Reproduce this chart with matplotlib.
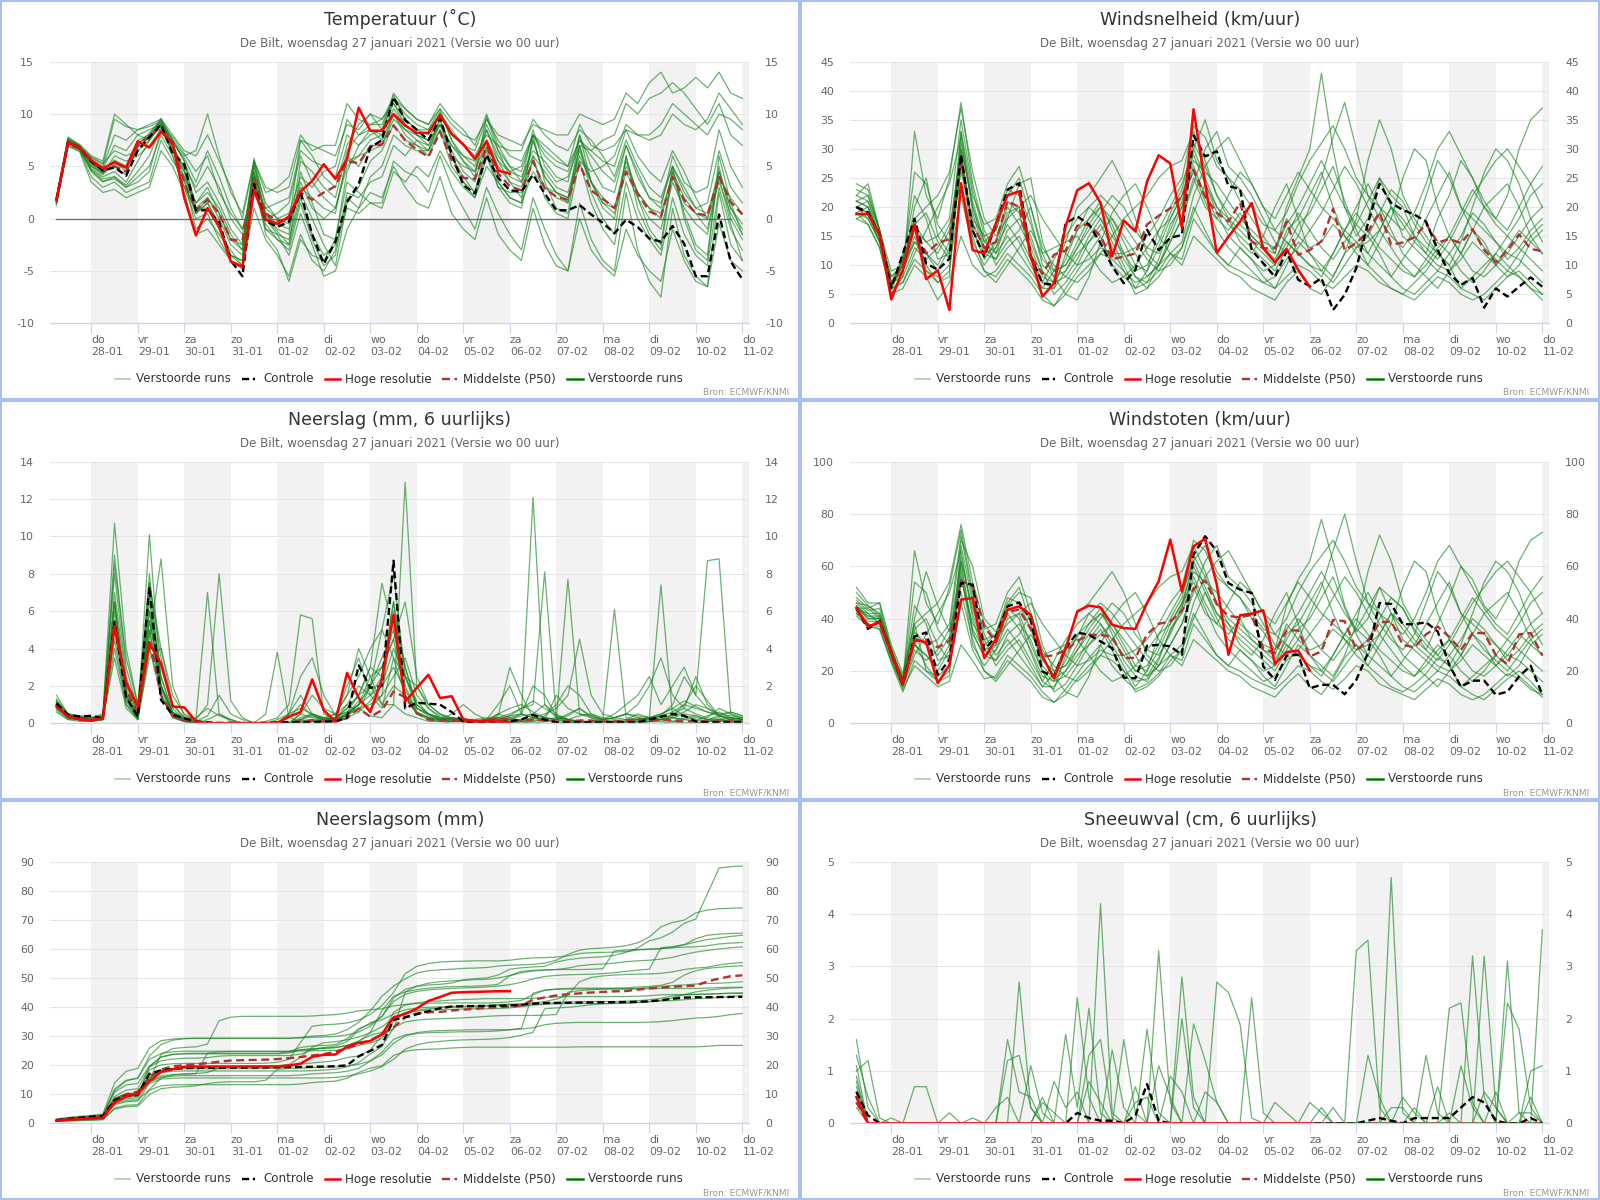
import numpy as np
import matplotlib
matplotlib.use('Agg')
import matplotlib.pyplot as plt
from matplotlib.lines import Line2D
from matplotlib.patches import Rectangle

plt.rcParams['font.family'] = ['DejaVu Sans']

def A(s):
    return np.array(s.replace(',', ' ').split(), dtype=float)

# ---------------- time axis (hours after 27-01 00 UTC, 6-hourly) ----------------
HOURS = np.arange(6, 361, 6)
TICK_HOURS = [24 * (k + 1) for k in range(15)]
DAY_NAMES = ['do', 'vr', 'za', 'zo', 'ma', 'di', 'wo', 'do', 'vr', 'za', 'zo', 'ma', 'di', 'wo', 'do']
DAY_DATES = ['28-01', '29-01', '30-01', '31-01', '01-02', '02-02', '03-02', '04-02',
             '05-02', '06-02', '07-02', '08-02', '09-02', '10-02', '11-02']

SUBTITLE = 'De Bilt, woensdag 27 januari 2021 (Versie wo 00 uur)'
LEGEND_LABELS = ['Verstoorde runs', 'Controle', 'Hoge resolutie', 'Middelste (P50)', 'Verstoorde runs']

# ---------------- Temperatuur ----------------
TEMP_CTRL = A("1.8,7.3,6.8,5.5,4.6,4.9,4.1,6.5,7.8,9.0,6.2,5.2, 0.8,0.8,-0.3,-4.0,-5.5,3.3,-0.2,-0.8,-0.3,2.5,-1.5,-4.3, "
              "-2.2,1.6,3.3,6.8,7.5,11.6,9.4,8.5,7.5,9.6,6.2,3.2, 2.4,6.1,3.9,2.7,2.6,4.2,2.4,0.8,0.8,1.3,0.4,-0.4, "
              "-1.4,-0.1,-0.8,-1.9,-2.2,-0.7,-2.4,-5.5,-5.5,0.4,-4.1,-5.8")
TEMP_HRES = A("1.8,7.3,6.8,5.6,4.8,5.4,4.9,7.4,6.8,8.3,7.3,2.0, -1.6,1.0,-0.7,-4.1,-4.6,2.7,-0.1,-0.5,0.2,2.6,3.6,5.2, "
              "3.8,5.7,10.6,8.4,8.4,10.0,8.9,8.2,8.2,9.9,8.1,7.1, 5.7,7.4,4.6,4.3")
TEMP_P50 = A("1.7,7.1,6.7,5.4,4.6,5.0,4.5,7.0,7.8,8.8,7.0,3.5, 0.8,1.8,0.5,-2.0,-2.1,3.8,0.5,-0.2,-0.1,2.5,1.8,2.5, "
             "3.1,5.5,5.3,6.9,7.1,8.9,7.5,6.6,5.9,8.3,5.6,3.9, 3.8,6.9,4.3,3.1,2.7,5.5,2.9,2.1,1.8,5.2,2.7,1.9, "
             "1.0,4.5,2.4,0.7,0.2,4.0,1.8,0.5,0.3,4.0,1.6,0.4")
TEMP_MEMBERS = [A(s) for s in [
    "1.6,7.5,6.9,5.8,5.2,9.5,8.8,8.5,9.0,9.5,7.5,6.0, 6.5,10.0,6.0,2.5, 0.5,5.5,2.5,3.0, 4.0,8.0,6.5,7.0, 7.0,11.0,9.5,9.0, 9.0,11.5,10.5,9.5, 9.0,10.5,9.0,8.0, 7.5,9.5,8.0,7.5, 7.0,9.0,8.5,8.0, 8.0,10.0,9.5,9.0, 9.5,12.0,11.0,13.0, 14.0,12.0,12.5,13.5, 12.5,14.0,12.0,11.5",
    "1.5,7.2,6.6,4.5,3.5,4.0,3.0,3.5,4.5,8.5,6.5,4.5, 0.5,1.5,-1.0,-3.5, -4.5,3.0,-1.0,-2.0, -3.0,1.5,-2.0,-4.5, -3.5,2.0,1.0,2.5, 2.0,5.0,3.0,1.5, 1.0,4.0,0.5,-1.0, -2.0,2.0,-1.5,-3.0, -4.0,1.0,-2.5,-4.5, -5.0,0.0,-3.0,-4.5, -5.5,-1.0,-3.5,-5.0, -6.0,-1.0,-4.0,-6.0, -6.5,-0.5,-4.0,-5.0",
    "1.7,7.8,7.0,5.0,4.2,5.5,4.5,7.5,8.0,9.2,6.0,3.0, 1.0,2.0,0.0,-2.5, -3.5,4.5,0.5,-0.5, -1.0,3.5,1.0,0.0, 1.0,5.5,6.0,7.5, 8.0,10.5,9.0,8.0, 7.0,9.5,6.5,4.5, 3.5,7.5,5.0,3.5, 3.0,7.5,4.0,2.5, 2.0,6.0,3.5,2.0, 1.0,5.0,2.5,1.0, 0.0,4.5,2.0,0.5, 0.0,4.5,1.0,-1.0",
    "1.9,7.4,6.8,5.5,4.8,7.0,6.5,8.0,8.5,9.0,7.5,5.5, 2.5,3.5,1.5,-1.0, -2.5,5.0,1.5,0.0, 0.5,4.0,3.0,4.5, 5.0,9.5,8.0,9.0, 9.5,11.5,10.0,9.0, 8.5,10.5,7.5,6.0, 5.5,8.5,6.0,4.5, 4.0,6.5,5.5,4.0, 3.5,8.0,5.0,3.0, 2.5,7.0,4.0,2.0, 1.5,5.0,2.5,1.0, 1.5,6.5,3.0,1.5",
    "1.4,7.0,6.5,4.0,3.0,3.5,2.5,3.0,3.5,7.5,5.5,4.0, 1.5,2.5,1.0,-1.5, -3.0,4.0,-0.5,-2.0, -2.5,2.0,-1.5,-3.5, -2.5,1.0,0.5,1.5, 1.0,4.5,3.5,5.0, 4.0,6.5,4.5,3.0, 2.0,5.0,3.5,2.0, 1.5,4.5,3.0,2.5, 2.0,5.5,4.5,5.0, 6.0,9.0,8.0,7.5, 8.0,10.0,9.0,8.5, 9.5,12.0,10.5,9.0",
    "1.8,7.6,6.9,5.2,4.3,6.0,5.5,6.0,7.0,8.5,6.5,5.0, 3.0,5.0,3.0,0.0, -1.5,4.5,0.5,-1.0, -1.5,5.5,4.5,3.0, 2.0,6.5,8.0,8.5, 7.5,10.0,8.0,7.0, 6.5,8.5,6.0,5.0, 4.5,7.5,5.5,4.5, 5.0,8.0,7.0,6.0, 5.0,7.5,6.5,5.5, 5.0,8.5,6.0,4.5, 3.5,6.5,4.5,2.0, 0.0,3.5,0.5,-1.5",
    "1.5,7.3,6.6,4.8,4.0,4.5,3.5,5.5,7.5,9.0,6.8,4.0, -1.0,0.0,-1.5,-3.0, -4.5,3.5,-1.0,-1.5, -2.0,2.5,0.0,-2.5, -4.5,1.5,3.0,5.5, 6.5,9.0,7.5,7.0, 6.0,8.5,5.0,3.5, 2.0,6.0,3.0,1.5, 1.0,6.0,2.0,0.5, 0.0,5.5,1.5,-1.0, -2.5,3.5,0.0,-2.0, -3.5,2.0,-1.5,-3.5, -4.5,3.0,-1.0,-3.0",
    "2.0,7.7,7.1,6.0,5.5,10.0,9.0,8.0,7.5,9.5,8.0,6.5, 6.0,8.0,5.5,3.0, 0.0,5.5,3.0,2.5, 3.0,7.5,7.0,6.5, 6.0,9.0,8.5,10.0, 9.5,11.0,9.5,8.5, 8.5,10.0,8.5,7.0, 6.5,9.5,7.5,6.0, 5.5,8.0,6.5,5.5, 5.0,9.0,7.0,6.5, 7.0,8.5,8.0,8.0, 9.0,11.0,10.0,9.0, 8.0,10.0,9.5,8.5",
    "1.6,7.2,6.7,4.7,3.8,4.0,3.2,4.5,6.0,8.8,6.5,3.5, 0.5,1.5,-0.5,-3.5, -4.0,5.5,0.0,-1.5, -3.5,0.5,-2.5,-5.5, -5.0,-1.0,1.0,4.0, 5.0,8.0,7.0,6.5, 6.5,9.5,6.0,4.0, 2.5,7.0,3.5,2.0, 1.5,8.0,3.5,1.0, 0.5,7.0,2.5,0.0, -1.5,6.0,1.0,-1.5, -3.0,4.5,0.5,-2.5, -3.5,5.0,0.0,-2.0",
    "1.7,7.5,6.8,5.6,5.0,8.0,7.5,8.5,8.8,9.3,7.2,5.8, 3.5,6.5,4.0,1.0, -1.0,3.0,1.0,1.5, 2.0,6.5,5.5,5.0, 4.0,8.0,7.0,8.0, 8.5,12.0,10.5,9.5, 9.0,11.0,9.5,8.5, 7.0,10.0,7.0,5.0, 3.5,6.0,4.5,3.0, 2.5,6.5,3.5,1.5, 0.5,4.5,2.0,0.0, -1.0,3.5,1.0,-0.5, -1.5,4.0,2.0,0.5",
    "1.3,6.9,6.4,3.5,2.5,2.8,2.0,2.5,3.0,6.5,5.0,2.5, -1.5,-1.0,-2.5,-4.0, -4.8,1.0,-2.0,-3.5, -5.5,-1.5,-4.0,-5.0, -3.0,2.5,2.0,3.5, 4.0,7.0,6.0,7.5, 7.0,9.0,7.0,5.5, 4.5,8.5,5.5,3.5, 2.0,7.5,4.0,2.5, 1.5,7.0,3.5,1.0, 0.0,6.0,2.0,-1.0, -2.5,5.0,0.0,-3.0, -4.0,6.0,1.5,-1.5",
    "1.8,7.4,6.9,5.3,4.4,5.0,4.2,7.0,8.2,9.4,7.0,4.5, 1.5,3.0,0.5,-2.0, -3.0,5.8,1.0,0.0, -0.5,7.5,6.0,4.0, 3.0,7.0,9.0,10.0, 8.5,11.0,9.0,8.0, 7.5,9.0,7.0,6.0, 5.0,9.0,6.5,4.0, 3.5,8.5,5.0,3.5, 4.0,7.0,6.5,7.5, 8.0,11.0,10.0,11.5, 12.0,13.0,12.0,10.5, 9.0,11.0,8.0,7.0",
    "1.5,7.1,6.6,4.6,3.6,3.8,3.0,4.0,5.0,8.0,6.0,3.0, 0.0,0.5,-2.0,-4.0, -4.5,4.0,-1.5,-3.0, -6.0,-2.0,-3.5,-4.0, -2.0,3.5,2.5,1.5, 1.5,5.5,4.5,4.0, 2.5,6.0,3.0,1.0, -1.0,3.0,0.5,-1.5, -3.0,2.0,-1.0,-3.5, -5.0,1.5,-2.0,-4.0, -5.0,2.5,-3.0,-6.0, -7.5,1.0,-3.5,-5.5, -6.5,2.5,-2.5,-4.0",
    "1.9,7.6,7.0,5.9,5.3,6.5,6.0,6.5,7.5,9.0,7.8,6.2, 4.5,6.0,2.5,0.5, -1.0,2.5,0.0,0.5, 1.5,6.0,3.5,2.0, 1.0,5.0,6.0,6.5, 7.0,9.5,8.5,8.0, 7.5,10.0,8.0,7.0, 6.0,8.0,7.0,6.5, 6.5,9.5,8.0,7.0, 6.5,8.5,7.5,6.0, 4.0,7.5,5.0,3.0, 2.0,5.0,3.0,1.0, 0.5,4.5,1.0,-0.5",
    "1.6,7.3,6.7,5.0,4.4,5.2,4.8,6.8,7.8,9.2,7.0,4.8, 0.5,2.0,0.5,-2.0, -2.5,4.2,0.3,-0.6, 0.0,3.0,2.0,1.0, 0.5,6.0,5.0,7.0, 7.0,10.0,8.5,7.5, 6.5,9.0,6.0,3.5, 2.5,6.5,3.0,2.5, 2.5,5.5,3.0,2.0, 1.5,8.0,3.5,1.5, 1.0,5.5,2.5,1.0, 0.5,4.0,1.5,0.5, -1.0,4.0,-0.5,-4.0",
    "1.7,7.5,6.8,5.4,4.6,5.6,5.0,7.2,8.0,9.6,7.5,5.5, 1.0,1.0,-1.0,-3.5, -4.0,5.2,0.0,-1.2, -2.5,4.5,1.5,-1.5, -2.0,4.5,7.0,8.5, 8.0,11.8,9.5,8.5, 8.0,10.2,7.5,5.5, 4.0,9.8,6.5,5.0, 4.5,8.0,6.0,5.0, 4.5,7.5,6.0,4.5, 3.5,7.0,4.5,2.0, 1.0,6.0,3.5,2.5, 3.0,8.5,5.0,3.0",
]]

# ---------------- Windsnelheid ----------------
WIND_CTRL = A("20.0,19.1,15.2,6.0,12.0,18.0,10.3,9.2,11.1,29.0,16.0,11.5, 17.0,23.0,24.1,11.5,6.9,6.6,17.2,18.4,17.0,13.8,9.8,6.9, "
              "9.2,16.1,12.6,14.7,15.2,32.3,28.7,29.6,23.6,23.1,12.6,10.3, 8.0,12.4,7.5,6.4,7.8,2.3,4.9,9.5,17.2,24.0,20.7,19.5, "
              "18.7,17.5,12.6,8.6,6.6,7.8,2.7,6.0,4.6,6.3,7.9,6.3")
WIND_HRES = A("18.8,18.8,15.2,4.1,9.2,17.0,7.6,9.1,2.3,24.1,12.6,12.0, 17.2,22.0,22.7,11.5,4.6,6.9,16.7,22.9,24.1,20.7,11.5,17.7, "
              "15.8,24.4,28.9,27.5,16.4,36.8,24.0,12.1,14.9,17.5,20.7,12.9, 10.5,12.8,9.2,6.3")
WIND_P50 = A("20.0,18.8,15.5,6.5,10.3,16.5,12.0,13.8,14.5,28.0,17.0,13.0, 14.0,21.0,20.0,11.5,8.5,11.8,12.5,16.8,17.0,15.0,11.0,11.5, "
             "12.0,17.0,18.5,19.8,21.8,26.4,21.8,19.0,17.5,20.7,14.1,12.9, 12.9,17.5,11.8,12.6,14.1,19.7,12.6,13.8,15.8,19.1,13.5,13.9, "
             "14.8,17.1,13.9,14.5,13.8,16.2,12.6,10.5,12.6,15.3,12.8,12.4")
WIND_MEMBERS = [A(s) for s in [
    "22,24,16,7,9,20,25,15,12,33,20,14, 12,18,24,25, 14,9,10,14, 18,20,17,12, 8,6,10,15, 20,30,35,28, 25,21,18,15, 12,20,25,30, 43,30,20,15, 18,25,22,20, 15,12,18,22, 28,25,20,18, 22,30,35,37",
    "19,17,13,5,6,10,8,4,7,15,10,8, 9,12,10,8, 5,3,6,9, 12,15,10,8, 6,7,9,12, 10,15,13,11, 9,8,6,5, 4,7,9,6, 5,8,12,14, 10,8,6,5, 7,9,12,10, 6,5,4,6, 8,9,7,5",
    "21,20,15,6,11,17,14,12,16,30,16,11, 14,21,19,12, 7,6,12,16, 20,18,14,10, 6,9,16,20, 24,30,25,20, 18,16,14,12, 10,16,18,22, 26,20,15,12, 10,14,18,25, 30,28,20,15, 12,16,20,22, 24,20,15,12",
    "18,19,14,8,10,14,12,10,14,26,18,15, 16,22,25,18, 10,8,9,12, 14,16,18,15, 12,8,10,14, 18,24,30,33, 27,25,22,18, 14,12,15,20, 25,32,38,30, 22,18,15,13, 16,22,28,25, 20,18,16,14, 12,15,18,20",
    "23,22,16,7,8,33,22,18,25,38,24,16, 12,15,12,9, 6,9,14,20, 22,25,28,24, 18,12,10,14, 18,25,20,18, 22,26,24,20, 16,14,12,10, 8,12,16,20, 24,20,16,12, 10,8,6,9, 12,16,14,10, 8,10,14,16",
    "20,18,14,6,7,12,16,20,24,32,19,12, 11,14,16,20, 13,10,8,7, 9,12,15,18, 20,22,25,27, 28,33,28,22, 18,14,12,15, 20,24,18,12, 10,8,12,18, 28,35,30,22, 18,15,12,10, 14,20,26,30, 28,24,18,14",
    "19,20,15,5,9,15,10,7,9,28,14,10, 13,19,20,14, 9,5,7,10, 14,17,13,9, 5,6,8,11, 13,20,16,12, 10,13,11,8, 6,10,14,12, 9,7,10,13, 15,12,8,6, 5,7,9,8, 6,8,10,12, 10,8,6,4",
    "22,21,16,6,12,18,9,7,8,33,22,17, 18,24,27,20, 12,8,5,4, 8,14,19,22, 24,20,15,12, 14,22,27,30, 32,28,24,20, 18,22,26,23, 20,18,16,14, 12,16,20,18, 15,13,11,14, 18,22,25,28, 30,27,24,20",
    "20,19,14,7,11,22,18,11,12,27,17,13, 14,20,17,13, 8,7,11,16, 18,21,16,11, 8,7,11,17, 20,27,22,18, 16,19,15,13, 12,18,15,13, 14,17,15,13, 14,16,20,17, 14,12,10,9, 11,14,12,10, 13,16,14,12",
    "21,20,15,8,10,16,14,15,18,35,23,15, 10,13,15,11, 7,11,15,18, 20,22,20,17, 14,11,9,10, 13,19,24,20, 17,15,13,11, 9,13,17,19, 23,27,21,16, 12,10,8,11, 14,18,22,26, 20,16,13,11, 9,12,15,17",
    "18,17,13,5,8,13,11,13,17,24,15,9, 7,10,13,16, 12,13,14,15, 12,9,7,8, 10,13,16,18, 22,26,21,16, 13,11,9,7, 8,11,13,16, 19,23,27,24, 20,16,13,10, 8,11,14,12, 9,7,9,12, 15,13,11,9",
    "24,23,16,9,10,18,20,22,26,37,26,18, 15,18,20,22, 18,15,12,10, 11,13,12,12, 13,15,18,22, 25,34,32,27, 25,23,20,17, 16,19,24,28, 31,34,30,25, 22,20,18,16, 19,24,30,33, 29,25,21,18, 16,20,24,27",
    "19,18,14,6,7,11,9,8,10,22,13,9, 8,11,9,7, 4,3,5,8, 10,12,11,9, 7,8,10,12, 11,18,15,12, 10,9,8,7, 6,8,10,9, 7,6,8,10, 9,7,6,5, 4,6,8,7, 5,4,5,7, 9,8,6,5",
    "20,21,15,7,10,17,19,14,11,30,21,14, 16,23,22,17, 11,9,10,13, 16,19,22,20, 16,13,12,16, 21,28,26,24, 21,18,16,14, 13,17,20,24, 28,24,20,17, 15,19,23,21, 17,14,12,15, 19,23,20,17, 15,18,22,24",
    "21,22,16,7,9,14,12,9,13,29,16,12, 13,17,14,10, 6,6,9,13, 17,20,18,14, 10,9,13,18, 22,29,24,19, 15,13,11,9, 10,14,12,10, 9,12,16,19, 16,13,11,9, 8,10,13,15, 12,9,8,10, 12,11,9,7",
    "20,19,15,6,10,26,24,17,14,31,20,13, 11,16,18,15, 9,7,8,11, 15,18,15,12, 9,10,14,19, 23,31,27,22, 19,17,15,13, 11,15,19,16, 13,11,14,17, 21,25,20,15, 13,11,9,12, 15,19,17,14, 11,13,16,18",
]]

# ---------------- Windstoten ----------------
GUST_CTRL = A("44.1,36.1,39.0,26.8,14.7,33.2,34.7,18.5,24.3,53.6,53.0,28.1, 33.2,44.7,46.2,39.6,19.8,17.9,28.7,34.7,33.8,31.3,28.7,17.5, "
              "17.2,29.6,30.0,29.4,26.2,64.5,71.5,65.8,53.6,51.1,49.8,21.7, 16.6,25.8,26.2,13.4,14.7,14.7,11.1,16.6,26.8,46.0,45.6,37.9, "
              "37.9,38.6,35.1,22.3,14.0,16.3,16.3,10.9,12.1,17.9,22.0,10.9")
GUST_HRES = A("44.1,37.0,38.6,26.8,14.9,31.9,31.0,15.3,22.3,47.3,47.9,24.9, 32.2,43.4,44.7,41.5,25.5,17.2,28.4,42.8,45.0,44.3,37.7,36.4, "
              "36.1,46.0,54.3,70.2,50.4,67.7,70.5,53.0,26.2,41.3,41.9,43.2, 22.7,27.2,27.8,20.2")
GUST_P50 = A("43.5,37.5,38.5,27,15.5,31.5,32,29,31.5,54.5,52.5,37, 31,42.5,43.5,36,25.5,26,28,31.5,33.8,33.8,33,25, "
             "25,34,38,39,43,51.5,54.5,45.5,41,40.5,41.5,28.5, 27,35.5,35.5,25.5,27.5,39.5,39,28,31.5,38.5,39,30, "
             "29,34,37,33,28,34.5,34.5,26,22.5,34,34.5,26")
GUST_MEMBERS = [A(s) for s in [
    "48,44,46,28,16,40,58,45,35,70,60,40, 35,45,50,48, 30,20,22,30, 38,42,36,28, 20,18,25,35, 45,62,68,58, 52,48,40,35, 28,45,55,62, 78,62,45,35, 40,52,48,44, 35,28,38,48, 60,55,45,40, 48,62,70,73",
    "42,38,36,24,13,22,18,14,16,30,24,17, 18,26,22,18, 12,8,13,19, 25,30,22,17, 13,15,19,26, 22,32,28,24, 20,18,14,12, 10,15,19,14, 11,17,25,30, 22,18,14,12, 15,19,25,22, 14,11,9,13, 17,20,16,11",
    "45,40,40,27,15,35,30,26,33,62,35,25, 30,44,40,27, 16,13,26,33, 42,38,30,22, 14,20,34,42, 50,62,52,42, 38,34,30,26, 22,34,38,46, 54,42,32,26, 22,30,38,52, 62,58,42,32, 26,34,42,46, 50,42,32,26",
    "44,42,38,28,17,30,26,22,30,55,38,32, 34,46,52,38, 22,17,20,26, 30,34,38,32, 26,18,22,30, 38,50,62,68, 56,52,46,38, 30,26,32,42, 52,66,80,62, 46,38,32,28, 34,46,58,52, 42,38,34,30, 26,32,38,42",
    "50,45,42,29,16,66,46,38,52,74,50,34, 26,32,26,20, 14,19,30,42, 46,52,58,50, 38,26,22,30, 38,52,42,38, 46,54,50,42, 34,30,26,22, 18,26,34,42, 50,42,34,26, 22,18,14,20, 26,34,30,22, 18,22,30,34",
    "43,39,39,26,14,26,34,42,50,66,40,26, 24,30,34,42, 28,22,18,16, 20,26,32,38, 42,46,52,56, 58,68,58,46, 38,30,26,32, 42,50,38,26, 22,18,26,38, 58,72,62,46, 38,32,26,22, 30,42,54,62, 58,50,38,30",
    "44,41,41,25,15,31,22,16,20,58,30,22, 28,40,42,30, 20,12,15,22, 30,36,28,20, 12,14,18,24, 28,42,34,26, 22,28,24,18, 14,22,30,26, 20,16,22,28, 32,26,18,14, 12,16,20,18, 14,18,22,26, 22,18,14,10",
    "47,43,44,27,18,38,20,16,18,68,46,36, 38,50,56,42, 26,18,12,10, 18,30,40,46, 50,42,32,26, 30,46,56,62, 66,58,50,42, 38,46,54,48, 42,38,34,30, 26,34,42,38, 32,28,24,30, 38,46,52,58, 62,56,50,42",
    "45,41,40,27,16,45,38,24,26,56,36,28, 30,42,36,28, 18,16,24,34, 38,44,34,24, 18,16,24,36, 42,56,46,38, 34,40,32,28, 26,38,32,28, 30,36,32,28, 30,34,42,36, 30,26,22,20, 24,30,26,22, 28,34,30,26",
    "46,42,42,28,17,33,30,32,38,72,48,32, 22,28,32,24, 16,24,32,38, 42,46,42,36, 30,24,20,22, 28,40,50,42, 36,32,28,24, 20,28,36,40, 48,56,44,34, 26,22,18,24, 30,38,46,54, 42,34,28,24, 20,26,32,36",
    "42,38,37,24,14,28,24,28,36,50,32,20, 16,22,28,34, 26,28,30,32, 26,20,16,18, 22,28,34,38, 46,54,44,34, 28,24,20,16, 18,24,28,34, 40,48,56,50, 42,34,28,22, 18,24,30,26, 20,16,20,26, 32,28,24,20",
    "52,46,46,30,19,38,42,46,54,76,54,38, 32,38,42,46, 38,32,26,22, 24,28,26,26, 28,32,38,46, 52,70,66,56, 52,48,42,36, 34,40,50,58, 64,70,62,52, 46,42,38,34, 40,50,62,68, 60,52,44,38, 34,42,50,56",
    "41,37,36,23,12,24,20,18,22,46,28,20, 17,24,20,16, 10,8,11,17, 22,26,24,20, 16,17,22,26, 24,38,32,26, 22,20,17,15, 13,17,22,20, 16,13,17,22, 20,15,13,11, 9,13,17,15, 11,9,11,15, 19,17,13,11",
    "44,44,40,28,17,36,40,30,24,62,44,30, 34,48,46,36, 24,20,22,28, 34,40,46,42, 34,28,26,34, 44,58,54,50, 44,38,34,30, 28,36,42,50, 58,50,42,36, 32,40,48,44, 36,30,26,32, 40,48,42,36, 32,38,46,50",
    "46,45,41,27,16,30,26,20,28,60,34,26, 28,36,30,22, 14,14,20,28, 36,42,38,30, 22,20,28,38, 46,60,50,40, 32,28,24,20, 22,30,26,22, 20,26,34,40, 34,28,24,20, 18,22,28,32, 26,20,18,22, 26,24,20,16",
    "44,40,40,27,16,54,50,36,30,64,42,28, 24,34,38,32, 20,16,18,24, 32,38,32,26, 20,22,30,40, 48,64,56,46, 40,36,32,28, 24,32,40,34, 28,24,30,36, 44,52,42,32, 28,24,20,26, 32,40,36,30, 24,28,34,38",
]]

# ---------------- Neerslag (6-uurlijks) ----------------
RAIN_CTRL = A("1.07,0.45,0.36,0.4,0.27,5.4,1.4,0.36,7.3,1.25,0.45,0.27, 0.1,0.05,0.02,0.02,0.02,0.02,0.02,0.05,0.05,0.05,0.05,0.1, "
              "0.1,0.3,3.1,1.9,2.0,8.7,0.8,1.1,1.05,1.0,0.6,0.1, 0.05,0.05,0.05,0.1,0.2,0.45,0.2,0.05,0.05,0.05,0.05,0.05, "
              "0.05,0.05,0.05,0.2,0.35,0.5,0.4,0.1,0.05,0.05,0.05,0.05")
RAIN_HRES = A("0.9,0.36,0.2,0.15,0.27,5.2,2.2,0.9,4.3,3.2,0.9,0.85, 0.1,0,0,0,0,0,0,0.03,0.35,0.6,2.35,0.7, "
              "0.1,2.7,1.35,0.6,2.35,5.8,1.15,1.9,2.6,1.35,1.45,0.2, 0.1,0.12,0.1,0.05")
RAIN_P50 = A("1.0,0.4,0.3,0.2,0.25,5.5,1.8,0.5,4.5,1.5,0.4,0.15, 0.05,0,0,0,0,0,0,0.02,0.05,0.1,0.15,0.1, "
             "0.1,0.27,0.8,0.35,0.7,1.7,1.4,0.55,0.2,0.15,0.2,0.1, 0.1,0.15,0.27,0.2,0.15,0.2,0.15,0.1,0.1,0.15,0.15,0.1, "
             "0.1,0.15,0.2,0.15,0.2,0.15,0.1,0.1,0.1,0.1,0.1,0.1")
RAIN_MEMBERS = [A(s) for s in [
    "1.2,0.5,0.3,0.3,0.4,8.0,2.5,0.5,6.0,3.0,1.0,0.3, 0.1,0,0,0,0,0,0,0,0.5,1.5,0.5,0.2, 0.3,2.0,3.5,1.5,2.5,6.5,3.0,1.0,0.5,0.2,0.5,1.0, 0.5,0.2,1.0,2.0,0.5,0.3,0.2,1.5,0.8,0.5,0.3,0.2, 0.5,1.0,1.5,2.5,1.0,2.0,3.0,1.5,8.7,8.8,0.5,0.2",
    "0.6,0.2,0.1,0.1,0.2,4.0,1.0,0.2,5.0,1.5,0.3,0.1, 0,0,0,0,0,0,0,0,0,0.2,0.5,0.3, 0.2,1.0,2.0,1.5,0.8,3.5,1.5,0.5,0.2,0.1,0.3,0.2, 0.1,0,0,0,0,0,0,0,0,0.1,0,0, 0,0,0,0,0,0,0,0,0.2,0.3,0,0",
    "1.5,0.5,0.4,0.3,0.5,10.7,4.0,1.0,7.0,2.5,0.6,0.2, 0,0,0,0,0,0,0,0,0,0.3,0.5,0.2, 0.5,1.5,2.5,4.0,5.0,3.5,2.5,2.0,0.8,0.3,0.2,0.3, 0.1,0.2,0.5,0.3,0.1,0.2,0.4,1.0,2.0,1.5,0.5,0.2, 0.3,0.5,1.0,2.0,3.5,1.5,0.8,2.5,1.0,0.4,0.2,0.1",
    "1.0,0.3,0.2,0.2,0.3,6.5,1.5,0.3,8.0,1.8,0.4,0.1, 0,0,0,0,0,0,0.1,0.3,1.0,5.8,5.6,0.5, 0.2,0.4,1.0,2.0,3.0,4.5,6.5,2.5,1.0,0.5,0.2,0.1, 0.1,0,0,0.2,0.5,0.3,0.1,0.2,0.4,0.8,0.3,0.1, 0.1,0.2,0.5,0.3,0.2,0.4,1.0,2.0,1.2,0.4,0.2,0.1",
    "0.8,0.3,0.2,0.2,0.2,5.0,1.2,0.2,3.5,4.0,1.0,0.3, 0.2,7.0,0.5,0.1,0,0,0,0,0,0.2,0.1,0, 0.1,0.5,1.2,0.8,1.5,6.0,3.0,0.8,0.5,0.3,0.2,0.1, 0.1,0.2,0.3,0.2,0.1,0.1,0.2,0.3,0.2,0.1,0.1,0, 0,0.1,0.2,0.3,0.5,0.8,0.4,0.2,0.1,0.1,0.2,0.1",
    "1.1,0.4,0.3,0.2,0.3,5.5,2.0,0.6,4.5,8.8,2.0,0.4, 0.2,1.0,8.0,1.2,0.3,0,0,0,0,0,0.1,0.3, 0.2,0.5,0.8,0.4,0.3,1.0,0.5,0.3,0.1,0.1,0,0, 0,0,0.1,0.3,0.5,2.0,1.5,0.4,0.2,0.1,0,0, 0,0.1,0.3,0.2,0.4,1.0,2.5,1.5,0.8,0.4,0.3,0.2",
    "0.9,0.3,0.2,0.2,0.3,6.0,1.8,0.4,5.5,2.5,0.5,0.2, 0,0,0,0,0,0,0,0.2,0.5,0.8,0.5,0.3, 0.5,1.0,0.6,2.0,5.0,8.0,2.5,0.8,0.4,0.2,0.3,0.2, 0.1,0.2,0,0,0,0.1,0.3,0.2,0.1,0,0,0, 0,0,0.1,0.2,0.3,0.1,0,0,0.1,0.2,0.1,0",
    "1.3,0.5,0.4,0.3,0.3,9.0,3.0,0.7,6.5,2.0,0.6,0.2, 0,0,0,0,0,0,0,0,0,0.5,0.3,0.2, 0.2,0.8,1.5,2.0,1.0,1.0,12.9,2.0,1.0,0.5,0.3,0.2, 0.2,0.1,0.5,0.8,1.0,0.6,0.3,0.2,0.5,0.8,0.4,0.2, 0.3,0.5,0.3,0.2,0.4,0.6,1.0,0.8,0.6,0.5,0.4,0.3",
    "0.7,0.2,0.2,0.1,0.2,3.5,0.8,0.2,4.0,2.0,0.5,0.2, 0.3,0.8,0.4,0.2,0,0,0.5,3.8,0.3,0.1,0.2,0.1, 0.1,0.3,0.6,1.2,2.0,4.0,2.5,1.2,0.5,0.2,0.1,0.1, 0.1,0,0,0,0.2,0.5,1.0,0.5,0.2,0.1,0,0, 0,0,0,0.1,0.2,0.3,0.5,0.4,0.2,0.4,0.6,0.4",
    "1.0,0.4,0.3,0.2,0.3,7.0,2.2,0.5,7.5,3.5,0.8,0.2, 0,0,0,0,0,0,0,0,0.3,1.0,0.4,0.2, 0.3,0.6,1.5,3.0,7.5,5.0,1.5,0.8,0.5,0.3,0.2,0.1, 0.1,0.2,0.4,3.0,1.5,0.3,0.2,0.1,0,0,0.1,0.2, 6.1,0.3,0.2,0.1,0.2,0.3,0.2,0.1,0.4,0.6,0.3,0.2",
    "0.9,0.3,0.3,0.2,0.2,4.5,1.0,0.3,6.0,1.5,0.3,0.1, 0,0,0,0,0,0,0,0,0,0,0,0, 0.2,0.4,0.8,1.0,1.5,2.5,3.5,1.5,0.8,0.4,0.3,0.2, 0.1,0.1,0.2,0.4,0.8,1.0,8.1,0.3,0.2,0.4,0.5,0.3, 0.2,0.1,0.2,0.3,0.2,0.1,0.3,0.4,0.2,0.2,0.3,0.2",
    "1.0,0.3,0.2,0.2,0.3,5.5,1.5,0.4,10.1,2.0,0.6,0.3, 0,0.2,0.5,0.2,0,0,0,0,0,0.5,1.5,0.8, 0.5,1.5,4.0,2.5,1.0,2.0,1.5,0.5,0.3,0.2,0.1,0.1, 0.1,0.1,0.3,0.2,0.1,0.3,0.5,0.8,1.5,4.5,1.5,0.5, 0.3,0.2,0.1,0.1,0.2,0.5,0.8,0.5,0.3,0.8,0.5,0.3",
    "1.1,0.4,0.2,0.2,0.2,6.5,1.6,0.3,5.0,2.0,0.4,0.1, 0,0,0,0,0,0,0,0,0,0,0.1,0.2, 0.3,0.8,1.5,3.0,2.5,6.5,2.0,0.6,0.3,0.2,0.1,0.2, 0.2,0.3,0.2,0.1,0,0,0.1,0.2,7.7,0.5,0.4,0.2, 0.1,0,0.1,0.3,0.4,0.3,0.2,0.3,0.2,0.1,0.2,0.3",
    "1.2,0.4,0.3,0.3,0.4,8.5,3.5,1.0,7.5,4.0,1.5,0.5, 0.2,0,0,0,0,0,0,0,0,0.1,0.2,0.1, 0.2,0.5,1.0,2.0,3.5,5.0,2.5,1.0,0.5,0.3,0.2,0.2, 0.1,0.2,0.3,0.5,0.8,1.2,0.8,0.4,0.2,0.1,0.1,0.2, 0.3,0.5,0.4,0.3,7.4,0.4,0.6,1.0,0.8,0.5,0.6,0.4",
    "0.8,0.3,0.2,0.2,0.2,5.5,1.3,0.3,5.5,2.0,0.5,0.2, 0.1,0.4,1.5,0.5,0.2,0,0,0,0.5,2.5,3.5,1.5, 0.4,0.6,1.0,1.5,2.0,3.0,1.8,0.6,0.3,0.2,0.1,0.1, 0.1,0,0.1,0.2,0.4,0.5,0.3,0.2,0.1,0,0,0, 0,0.1,0.2,0.3,0.5,0.8,1.2,0.9,0.6,0.4,0.3,0.2",
    "1.0,0.4,0.2,0.2,0.3,6.5,1.4,0.3,4.0,1.5,0.4,0.2, 0,0,0,0,0,0,0,0,0,0.2,0.4,0.2, 0.2,0.5,1.0,2.5,3.0,4.5,1.5,0.5,0.3,0.1,0.1,0.1, 0,0.1,0.2,0.4,0.5,12.1,1.0,0.3,0.1,0,0,0, 0,0,0,0.1,0.1,0,0,0,0.1,0.2,0.1,0",
]]

# ---------------- Neerslagsom (cumulative of the 6-hourly amounts; median read separately) ----------------
SUM_P50 = A("1.0,1.4,1.7,2.0,2.3,8.0,10.0,10.9,16.0,18.5,19.6,20.0, 20.3,20.7,21.2,21.6,21.7,21.8,21.9,22.1,22.4,22.8,23.3,23.8, "
            "24.6,25.8,27.3,28.5,30.5,33.0,36.5,37.8,38.2,38.3,38.8,39.1, 39.4,39.7,40.0,40.2,40.6,42.5,43.3,44.0,44.4,44.7,45.0,45.2, "
            "45.4,45.5,46.0,46.4,46.7,47.0,47.2,47.4,48.8,49.8,50.6,50.9")

# ---------------- Sneeuwval (6-uurlijks) ----------------
SNOW_CTRL = A("0.6,0.15,0,0,0,0,0,0,0,0,0,0, 0,0,0,0,0,0,0,0.2,0.1,0.05,0.05,0, 0.15,0.75,0.05,0,0,0,0,0,0,0,0,0, "
              "0,0,0,0,0,0,0,0,0.05,0.1,0.05,0, 0.1,0.1,0.1,0.1,0.3,0.5,0.4,0.05,0,0,0.1,0")
SNOW_HRES = A("0.5,0,0,0,0,0,0,0,0,0,0,0, 0,0,0,0,0,0,0,0,0,0,0,0, 0,0,0,0,0,0,0,0,0,0,0,0, 0,0,0,0")
SNOW_P50 = A("0.4,0,0,0,0,0,0,0,0,0,0,0, 0,0,0,0,0,0,0,0,0,0,0,0, 0,0,0,0,0,0,0,0,0,0,0,0, "
             "0,0,0,0,0,0,0,0,0,0,0,0, 0,0,0,0,0,0,0,0,0,0,0,0")
# snow members: step index -> cm (all other steps 0)
SNOW_MEMBER_STEPS = [
    {0: 1.6, 1: 0.3, 21: 4.2, 22: 0.2},
    {0: 1.3, 1: 0.5, 13: 1.6, 14: 0.6, 15: 0.5, 43: 3.3, 44: 3.5, 45: 0.3},
    {0: 1.0, 1: 1.2, 2: 0.1, 14: 2.7, 15: 0.3, 26: 3.3, 27: 0.4, 59: 3.7},
    {0: 0.8, 5: 0.7, 6: 0.7, 19: 2.4, 20: 0.5, 28: 2.8, 29: 0.5, 46: 4.7, 47: 0.2},
    {0: 0.5, 18: 1.7, 19: 0.3, 20: 2.2, 21: 0.2, 31: 2.7, 32: 2.5, 33: 1.9, 34: 0.1, 53: 3.2, 54: 0.5},
    {0: 0.7, 13: 1.2, 14: 1.3, 15: 0.3, 25: 1.8, 26: 0.2, 34: 2.4, 35: 0.2, 54: 3.2, 55: 0.3},
    {0: 1.1, 22: 1.4, 23: 0.3, 29: 1.9, 30: 1.2, 31: 0.4, 51: 2.2, 52: 2.3, 53: 0.4, 56: 3.1, 57: 0.2},
    {0: 0.9, 15: 1.1, 16: 0.2, 23: 1.6, 24: 0.2, 28: 2.0, 29: 0.3, 49: 1.3, 50: 0.2, 56: 2.3, 57: 1.8, 58: 0.3},
    {0: 0.6, 12: 0.3, 13: 0.5, 20: 1.3, 21: 1.6, 22: 0.1, 26: 1.1, 27: 0.5, 39: 0.4, 40: 0.2, 44: 1.3, 45: 0.5, 58: 1.0, 59: 1.1},
    {0: 0.4, 8: 0.2, 17: 0.8, 18: 0.3, 19: 0.6, 24: 0.4, 25: 0.5, 36: 0.4, 37: 0.2, 48: 0.3, 52: 1.1, 53: 0.3, 55: 0.6, 58: 0.5},
    {0: 0.3, 10: 0.1, 16: 0.5, 20: 0.8, 21: 0.4, 27: 0.9, 28: 0.6, 41: 0.3, 47: 0.5, 48: 0.2, 51: 0.2, 54: 0.6, 55: 0.3},
    {0: 0.6, 3: 0.1, 16: 0.4, 17: 0.2, 24: 0.7, 30: 0.6, 31: 0.4, 40: 0.3, 46: 0.3, 47: 0.3, 50: 0.7, 57: 0.2, 58: 0.2},
]
SNOW_MEMBERS = []
for steps in SNOW_MEMBER_STEPS:
    m = np.zeros(len(HOURS))
    for k, v in steps.items():
        m[k] = v
    SNOW_MEMBERS.append(m)

SUM_MEMBERS = [np.cumsum(m) for m in RAIN_MEMBERS]
SUM_CTRL = np.cumsum(RAIN_CTRL)
SUM_HRES = np.cumsum(RAIN_HRES)

# ---------------- drawing ----------------
W, H = 1600, 1200
fig = plt.figure(figsize=(16, 12), dpi=100)

def fx(px):
    return px / W

def fy(py):
    return 1 - py / H

MEMBER_COLOR = '#11831a'
P50_COLOR = '#b03232'
AXIS_BLUE = '#ccd6eb'
CTRL_DASH = (0, (3.0, 1.6))
P50_DASH = (0, (3.4, 1.9))


def draw_panel(r, c, title, members, ctrl, hres, p50, ymin, ymax, ystep, zero_line=False):
    X0, Y0 = c * 800, r * 400
    fig.add_artist(Rectangle((fx(X0 + 1), fy(Y0 + 399)), 798 / W, 398 / H,
                             transform=fig.transFigure, fill=False, ec='#93b7ee', lw=1.2))
    ax = fig.add_axes([fx(X0 + 50), fy(Y0 + 323.3), 699.3 / W, 261.6 / H])
    ax.set_xlim(2.7, 363.6)
    ax.set_ylim(ymin, ymax)
    for k in range(8):
        ax.axvspan(24 + 48 * k, 48 + 48 * k, color='#f2f2f2', lw=0, zorder=0.5)
    yt = np.arange(ymin, ymax + ystep / 2, ystep)
    for y in yt[1:]:
        ax.axhline(y, color='#e6e6e6', lw=0.8, zorder=0.8)
    if zero_line:
        ax.plot([HOURS[0], 354], [0, 0], color='#707070', lw=1.0, zorder=1.5)
    for m in members:
        ax.plot(HOURS[:len(m)], m, color=MEMBER_COLOR, alpha=0.62, lw=0.9, zorder=2)
    ax.plot(HOURS[:len(p50)], p50, color=P50_COLOR, lw=1.7, ls=P50_DASH, zorder=3.5)
    ax.plot(HOURS[:len(ctrl)], ctrl, color='black', lw=1.7, ls=CTRL_DASH, zorder=4)
    ax.plot(HOURS[:len(hres)], hres, color='#ff0000', lw=1.8, zorder=5)

    ax.set_yticks(yt)
    ax.set_yticklabels([f'{v:g}' for v in yt])
    ax.tick_params(axis='y', length=0, pad=11.5, labelsize=7.9, labelcolor='#666666',
                   labelleft=True, labelright=True)
    ax.set_xticks(TICK_HOURS)
    ax.set_xticklabels([f'{d}\n{t}' for d, t in zip(DAY_NAMES, DAY_DATES)], ha='left')
    ax.tick_params(axis='x', length=7.2, width=0.8, color=AXIS_BLUE, pad=1.5,
                   labelsize=7.9, labelcolor='#666666')
    for s in ['top', 'left', 'right']:
        ax.spines[s].set_visible(False)
    ax.spines['bottom'].set_color(AXIS_BLUE)
    ax.spines['bottom'].set_linewidth(1.0)
    ax.spines['bottom'].set_zorder(6)

    fig.text(fx(X0 + 400), fy(Y0 + 25), title, ha='center', va='baseline',
             fontsize=12.6, color='#333333')
    fig.text(fx(X0 + 400), fy(Y0 + 46.5), SUBTITLE, ha='center', va='baseline',
             fontsize=8.6, color='#666666')

    items = [
        (115, 130, '#a8d5a8', 1.3, '-', 136),
        (242, 255, 'black', 1.7, CTRL_DASH, 263),
        (325, 340, '#ff0000', 1.8, '-', 345),
        (442, 457, P50_COLOR, 1.7, P50_DASH, 463),
        (567, 583, '#008000', 1.8, '-', 588),
    ]
    for (a, b, col, lw, ls, tx), lab in zip(items, LEGEND_LABELS):
        fig.add_artist(Line2D([fx(X0 + a), fx(X0 + b)], [fy(Y0 + 378.5)] * 2,
                              transform=fig.transFigure, color=col, lw=lw, ls=ls))
        fig.text(fx(X0 + tx), fy(Y0 + 382.5), lab, ha='left', va='baseline',
                 fontsize=8.6, color='#333333')
    fig.text(fx(X0 + 789), fy(Y0 + 395), 'Bron: ECMWF/KNMI', ha='right', va='baseline',
             fontsize=6.5, color='#999999')
    return ax


draw_panel(0, 0, 'Temperatuur (˚C)', TEMP_MEMBERS, TEMP_CTRL, TEMP_HRES, TEMP_P50, -10, 15, 5, zero_line=True)
draw_panel(0, 1, 'Windsnelheid (km/uur)', WIND_MEMBERS, WIND_CTRL, WIND_HRES, WIND_P50, 0, 45, 5)
draw_panel(1, 0, 'Neerslag (mm, 6 uurlijks)', RAIN_MEMBERS, RAIN_CTRL, RAIN_HRES, RAIN_P50, 0, 14, 2)
draw_panel(1, 1, 'Windstoten (km/uur)', GUST_MEMBERS, GUST_CTRL, GUST_HRES, GUST_P50, 0, 100, 20)
draw_panel(2, 0, 'Neerslagsom (mm)', SUM_MEMBERS, SUM_CTRL, SUM_HRES, SUM_P50, 0, 90, 10)
draw_panel(2, 1, 'Sneeuwval (cm, 6 uurlijks)', SNOW_MEMBERS, SNOW_CTRL, SNOW_HRES, SNOW_P50, 0, 5, 1)

fig.savefig('out.png', dpi=100)
